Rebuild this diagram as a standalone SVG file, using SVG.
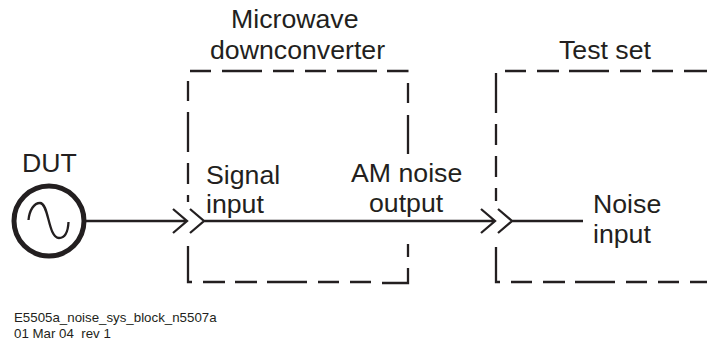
<svg xmlns="http://www.w3.org/2000/svg" width="707" height="342" viewBox="0 0 707 342">
<style>
.l{fill:none;stroke:#231f20;stroke-width:2.3}
.d{fill:none;stroke:#231f20;stroke-width:2.3}
text{font-family:"Liberation Sans",Arial,sans-serif;fill:#231f20}
.t{font-size:26.7px}
.s{font-size:13.3px}
</style>
<rect width="707" height="342" fill="#fff"/>
<g id="dut">
<circle cx="49" cy="221" r="35" fill="none" stroke="#231f20" stroke-width="5"/>
<path class="l" d="M28.500 220C29.500 210 34 203 40 203C49 203 48 238 59 238C65 238 68 232 68.500 222"/>
<text class="t" x="22" y="172">DUT</text>
</g>
<g id="downconverter">
<path class="d" d="M190 71H211M222 71H262M273 71H294M305 71H326M337 71H377M387 71H408.500M408 83V103M408 115V154M408 244V257M408 268V283H382M371 282H350M339 282H318M307 282H267M257 282H235M225 282H203M192 282H188V246M188 202V195M188 184V163M188 152V112M188 101V81"/>
<text class="t" x="231" y="28">Microwave</text>
<text class="t" x="210" y="59">downconverter</text>
<text class="t" x="206" y="183.500">Signal</text>
<text class="t" x="206" y="213">input</text>
<text class="t" x="351" y="182">AM noise</text>
<text class="t" x="369" y="212">output</text>
</g>
<g id="testset">
<path class="d" d="M505 71H526M537 71H559M569 71H609M620 71H641M652 71H673M684 71H707M496 73V113M496 124V145M496 156V177M496 188V201M496 247V282H500M511 282H532M543 282H565M575 282H615M626 282H647M658 282H679M690 282H707"/>
<text class="t" x="559" y="59">Test set</text>
<text class="t" x="593" y="213">Noise</text>
<text class="t" x="593" y="243">input</text>
</g>
<g id="connectors">
<path class="l" d="M84 221H186M173 209L187 221L173 233M190 209L204 221L190 233M204 221H494M481 209L495 221L481 233M498 209L512 221L498 233M512 221H583"/>
</g>
<g id="footer">
<text class="s" x="14" y="322">E5505a_noise_sys_block_n5507a</text>
<text class="s" x="14" y="338" xml:space="preserve">01 Mar 04  rev 1</text>
</g>
</svg>
